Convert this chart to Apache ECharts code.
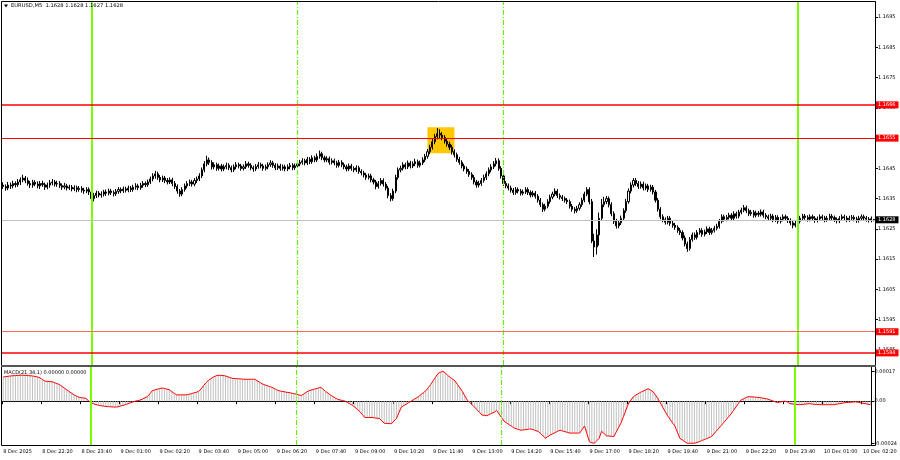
<!DOCTYPE html>
<html><head><meta charset="utf-8">
<script src="https://cdn.jsdelivr.net/npm/echarts/dist/echarts.min.js"></script>
<style>html,body{margin:0;padding:0;background:#fff}#c{width:900px;height:460px}</style>
</head><body><div id="c"></div>
<script>
// ---------- data ----------
const symbolName = 'EURUSD,M5';
const titleValues = ['1.1628', '1.1628', '1.1627', '1.1628'];
const macdTitle = 'MACD(21,34,1) 0.00000 0.00000';
const BASE = 1.16;       // prices below are stored as points above BASE
const PT = 0.00001;      // one point
const startTimeUTC = Date.UTC(2025, 11, 8, 21, 0);
const barMinutes = 5;
const barCount = 356;
const tickEvery = 16;
const tickLabels = ['8 Dec 2025','8 Dec 22:20','8 Dec 23:40','9 Dec 01:00','9 Dec 02:20','9 Dec 03:40','9 Dec 05:00','9 Dec 06:20','9 Dec 07:40','9 Dec 09:00','9 Dec 10:20','9 Dec 11:40','9 Dec 13:00','9 Dec 14:20','9 Dec 15:40','9 Dec 17:00','9 Dec 18:20','9 Dec 19:40','9 Dec 21:00','9 Dec 22:20','9 Dec 23:40','10 Dec 01:00','10 Dec 02:20'];
const priceTicks = [1.1585,1.1595,1.1605,1.1615,1.1625,1.1635,1.1645,1.1655,1.1665,1.1675,1.1685,1.1695];
const macdTicks = [0.00017, 0, -0.00024];
const macdTickText = ['0.00017', '0.00', '-0.00024'];
const levelPrices = [1.1666, 1.1655, 1.1591, 1.1584];
const currentPrice = 1.1628;
const solidLineTimes = ['9 Dec 00:00', '10 Dec 00:00'];
const dashedLineTimes = ['9 Dec 07:00', '9 Dec 14:00'];
const boxTimes = ['9 Dec 11:25', '9 Dec 12:20'];
const boxPrices = [1.1650, 1.16586];

// candles: [open, close, low, high] in points above BASE
const candlePts = [
[395,390,382,404],[390,385,376,397],[385,395,378,405],[395,392,382,403],[392,400,384,409],[400,396,387,407],[396,405,389,415],[405,412,395,420],[412,418,404,429],[418,410,401,425],
[410,400,393,420],[400,395,385,408],[395,404,386,412],[404,398,391,411],[398,392,384,407],[392,400,382,408],[400,396,389,409],[396,388,379,403],[388,395,381,403],[395,402,386,412],
[402,405,394,415],[405,398,390,412],[398,400,389,409],[400,393,385,408],[393,388,379,400],[388,392,381,402],[392,385,377,399],[385,388,378,396],[388,382,374,395],[382,386,375,394],
[386,380,371,393],[380,384,373,392],[384,378,370,391],[378,375,366,386],[375,380,368,388],[380,372,362,387],[372,350,336,379],[350,360,341,369],[360,368,352,376],[368,362,354,375],
[362,365,353,374],[365,372,357,379],[372,368,359,380],[368,375,361,383],[375,370,362,382],[370,366,357,377],[366,374,359,382],[374,380,366,388],[380,376,368,387],[376,382,369,390],
[382,378,370,389],[378,385,371,393],[385,380,372,392],[380,388,373,396],[388,392,380,401],[392,386,378,399],[386,394,379,402],[394,400,386,408],[400,396,388,407],[396,405,389,413],
[405,415,398,423],[415,425,407,434],[425,432,416,442],[432,420,412,439],[420,412,404,428],[412,418,405,426],[418,410,401,425],[410,405,397,418],[405,412,398,420],[412,400,391,419],
[400,390,382,408],[390,375,366,397],[375,365,356,382],[365,380,358,388],[380,392,373,400],[392,400,384,408],[400,405,392,413],[405,398,390,412],[398,410,391,418],[410,415,402,423],
[415,425,408,434],[425,445,418,453],[445,465,437,474],[465,478,457,492],[478,470,461,486],[470,455,446,477],[455,462,447,470],[462,450,442,469],[450,458,443,466],[458,448,440,465],
[448,455,441,463],[455,460,447,469],[460,452,444,467],[452,445,437,459],[445,455,438,463],[455,462,447,471],[462,458,450,469],[458,450,442,465],[450,455,443,463],[455,465,448,474],
[465,460,452,472],[460,452,444,467],[452,448,439,459],[448,456,441,464],[456,462,449,471],[462,458,450,469],[458,450,442,465],[450,455,443,463],[455,462,447,470],[462,468,455,477],
[468,460,452,475],[460,452,444,467],[452,458,445,466],[458,450,442,465],[450,455,443,463],[455,448,440,462],[448,455,441,463],[455,460,447,468],[460,452,444,467],[452,458,445,466],
[458,465,451,473],[465,470,457,478],[470,475,462,484],[475,468,460,482],[468,480,461,488],[480,472,464,487],[472,485,465,493],[485,478,470,492],[478,490,471,499],[490,498,482,509],
[498,485,477,505],[485,478,470,492],[478,482,471,490],[482,470,462,489],[470,475,463,483],[475,468,460,482],[468,460,452,475],[460,470,453,478],[470,462,454,477],[462,455,447,469],
[455,448,440,462],[448,458,441,466],[458,450,442,465],[450,445,437,457],[445,452,438,460],[452,440,432,459],[440,435,427,447],[435,428,420,442],[428,420,412,435],[420,425,413,433],
[425,412,404,432],[412,405,397,419],[405,390,381,412],[390,400,383,408],[400,410,393,418],[410,398,390,417],[398,385,377,405],[385,360,351,392],[360,350,341,368],[350,375,343,383],
[375,420,368,429],[420,445,413,453],[445,450,437,459],[450,462,443,470],[462,455,447,469],[455,468,448,476],[468,458,450,475],[458,465,451,473],[465,472,457,482],[472,460,452,479],
[460,468,453,476],[468,478,461,487],[478,490,471,498],[490,505,482,514],[505,520,497,528],[520,538,512,547],[538,555,530,564],[555,565,546,583],[565,560,548,579],[560,552,543,570],
[552,540,532,560],[540,530,522,549],[530,520,511,538],[520,505,496,528],[505,495,486,513],[495,480,472,502],[480,470,462,488],[470,458,450,477],[458,448,440,465],[448,440,432,456],
[440,430,422,448],[430,420,412,437],[420,405,397,428],[405,395,386,412],[395,400,387,409],[400,410,392,418],[410,420,403,429],[420,432,412,440],[432,445,424,453],[445,455,437,464],
[455,465,448,474],[465,475,457,484],[475,450,442,483],[450,425,416,457],[425,400,392,432],[400,392,384,408],[392,385,377,400],[385,378,370,393],[378,370,362,385],[370,380,363,388],
[380,375,367,387],[375,368,360,382],[368,372,361,380],[372,380,365,388],[380,370,362,387],[370,362,354,377],[362,368,355,376],[368,358,350,375],[358,345,337,365],[345,330,322,352],
[330,315,306,337],[315,325,308,333],[325,340,318,348],[340,355,333,363],[355,365,348,373],[365,375,358,384],[375,360,352,382],[360,355,347,367],[355,350,342,362],[350,345,337,357],
[345,340,332,352],[340,325,317,347],[325,315,307,332],[315,310,301,322],[310,318,303,326],[318,330,311,338],[330,345,323,353],[345,365,338,373],[365,380,358,388],[380,340,331,387],
[340,210,203,349],[210,190,157,234],[190,230,165,249],[230,285,195,304],[285,330,276,349],[330,340,322,356],[340,350,332,359],[350,330,321,357],[330,300,292,338],[300,275,266,308],
[275,260,251,283],[260,270,252,279],[270,285,263,294],[285,310,278,318],[310,340,303,349],[340,375,333,384],[375,395,367,404],[395,410,387,418],[410,400,392,418],[400,390,382,408],
[390,398,383,407],[398,385,377,406],[385,392,378,400],[392,380,372,399],[380,388,373,396],[388,372,364,395],[372,345,337,379],[345,315,307,352],[315,290,282,322],[290,280,272,298],
[280,272,264,288],[272,285,265,293],[285,268,260,292],[268,262,254,276],[262,255,247,270],[255,245,237,262],[245,238,230,253],[238,220,212,245],[220,200,192,228],[200,185,174,208],
[185,215,178,223],[215,230,208,238],[230,222,214,238],[222,238,215,246],[238,245,231,253],[245,232,224,252],[232,240,225,248],[240,250,233,258],[250,238,230,257],[238,245,231,253],
[245,252,238,260],[252,258,245,267],[258,275,251,283],[275,290,268,298],[290,282,274,297],[282,288,275,296],[288,295,281,303],[295,285,277,302],[285,300,278,308],[300,292,284,307],
[292,305,285,313],[305,312,298,320],[312,320,305,329],[320,310,302,327],[310,300,292,317],[300,305,293,313],[305,295,287,312],[295,302,288,310],[302,298,290,309],[298,306,291,314],
[306,295,287,313],[295,290,282,302],[290,285,277,297],[285,292,278,300],[292,280,272,299],[280,288,273,296],[288,275,267,295],[275,282,268,290],[282,290,275,298],[290,285,277,297],
[285,278,270,292],[278,270,262,285],[270,262,252,277],[262,268,255,276],[268,275,261,283],[275,285,268,293],[285,292,278,300],[292,288,280,299],[288,282,274,295],[282,290,275,298],
[290,285,277,297],[285,278,270,292],[278,283,271,291],[283,290,276,298],[290,286,278,297],[286,280,272,293],[280,285,273,293],[285,292,278,300],[292,287,279,299],[287,281,273,294],
[281,276,268,288],[276,284,269,292],[284,290,277,298],[290,286,278,297],[286,280,272,293],[280,285,273,293],[285,288,278,296],[288,283,275,295],[283,278,270,290],[278,285,271,293],
[285,290,278,298],[290,286,278,297],[286,282,274,293],[282,279,271,289],[279,284,272,291],[281,280,275,283]
];

// MACD main line, in points
const macdPts = [
13.8,14.0,14.2,14.4,14.5,14.6,14.7,14.8,14.8,14.7,
14.6,14.5,14.4,14.1,13.8,13.4,12.4,11.5,11.3,11.2,
11.1,10.6,10.0,9.5,8.5,7.5,6.5,5.5,4.5,3.6,
2.9,2.2,2.0,1.8,1.6,0.0,-0.8,-1.5,-2.0,-2.3,
-2.6,-2.8,-3.0,-3.1,-3.2,-3.3,-3.4,-3.2,-2.8,-2.4,
-2.0,-1.5,-1.0,-0.5,0.0,0.3,0.6,1.2,1.9,2.6,
4.2,5.9,6.4,6.8,7.2,7.5,7.3,6.9,6.5,5.5,
4.5,3.6,3.6,3.6,3.6,3.6,3.9,4.3,4.7,5.1,
5.5,7.0,8.8,10.5,11.8,12.8,13.8,14.4,14.8,14.7,
14.6,14.4,13.9,13.4,13.0,12.9,12.8,12.7,12.6,12.5,
12.5,12.5,12.5,12.5,11.6,10.8,9.9,9.4,8.9,8.4,
7.9,7.2,6.5,5.9,5.6,5.4,5.1,4.9,4.6,4.3,
4.0,3.6,3.2,4.1,5.0,5.9,6.3,6.7,7.1,7.5,
7.9,6.8,5.5,4.5,3.5,2.6,1.8,1.0,0.7,0.3,
0.0,-0.8,-1.6,-2.4,-3.5,-4.7,-5.9,-7.6,-9.3,-9.3,
-9.3,-9.3,-9.5,-9.7,-9.9,-11.2,-12.6,-12.7,-12.8,-12.8,
-11.3,-9.9,-6.6,-3.4,-2.5,-1.7,-0.8,0.0,0.9,1.7,
2.6,3.7,4.8,5.9,7.7,9.5,11.6,13.7,15.8,16.5,
17.0,16.2,14.6,13.6,12.6,11.5,9.5,7.5,5.5,3.0,
0.6,-0.8,-2.1,-3.4,-4.9,-6.4,-7.9,-8.1,-8.3,-7.6,
-6.9,-6.3,-5.3,-7.3,-9.3,-11.3,-12.3,-13.3,-14.2,-15.2,
-15.7,-16.2,-16.6,-16.4,-16.2,-16.0,-15.8,-16.3,-16.8,-17.2,
-18.5,-19.8,-21.1,-20.2,-19.2,-18.6,-17.9,-17.2,-16.6,-17.0,
-17.4,-17.8,-18.2,-18.2,-18.2,-18.2,-18.2,-16.2,-14.2,-18.6,
-23.1,-23.8,-24.0,-22.6,-21.1,-17.2,-18.5,-19.8,-19.9,-20.0,
-20.2,-17.5,-14.9,-12.3,-8.6,-5.0,-1.4,0.6,2.6,3.5,
4.3,5.1,5.8,6.4,7.1,6.3,5.5,3.6,1.6,-0.9,
-3.4,-5.9,-8.3,-10.3,-12.3,-14.2,-17.7,-21.1,-22.1,-23.1,
-24.0,-24.0,-24.0,-24.0,-23.6,-23.1,-22.5,-21.9,-21.4,-20.8,
-20.2,-18.6,-17.0,-15.4,-13.8,-12.2,-10.6,-8.9,-7.3,-5.3,
-3.3,-1.3,0.6,1.3,2.0,2.6,2.5,2.4,2.3,2.2,
2.0,1.7,1.5,1.2,0.7,0.2,-0.3,-0.8,-0.5,-0.2,
0.0,-0.4,-1.4,-1.6,-1.8,-1.9,-2.0,-1.9,-1.7,-1.6,
-1.4,-1.6,-1.8,-1.9,-2.0,-2.0,-2.0,-2.0,-2.0,-2.0,
-2.0,-1.8,-1.5,-1.3,-1.0,-0.8,-0.7,-0.6,-0.5,-0.4,
-0.6,-0.9,-1.2,-1.4,-1.7,-2.0
];

// ---------- build ----------
function two(n){ return (n < 10 ? '0' : '') + n; }
const categories = [];
for (let i = 0; i < barCount; i++) {
  const d = new Date(startTimeUTC + i * barMinutes * 60000);
  categories.push(d.getUTCDate() + ' Dec ' + two(d.getUTCHours()) + ':' + two(d.getUTCMinutes()));
}
const toPrice = n => +(BASE + n * PT).toFixed(5);
const candleData = candlePts.map(c => c.map(toPrice));
const macdData = macdPts.map(v => +(v * PT).toFixed(7));
const emptyData = categories.map(() => null);

const FONT = 'DejaVu Sans';
const GREEN = '#7cfc00';
const lbl = { fontFamily: FONT, fontSize: 5, color: '#000' };

function vlines(){
  return solidLineTimes.map(t => ({ xAxis: t, lineStyle: { color: GREEN, width: 2, type: 'solid', opacity: 1 } }))
    .concat(dashedLineTimes.map(t => ({ xAxis: t, lineStyle: { color: '#66ee00', width: 1.2, type: [5, 2, 1, 2], opacity: 1 } })));
}
const levelColors = ['#ff0000', '#ff0000', '#ff6a6a', '#ff0000'];
const levelWidths = [1.5, 1.2, 1.2, 1.5];
const labelBox = (bg) => ({ show: true, position: 'end', distance: 1,
  backgroundColor: bg, color: '#fff', padding: [1, 3, 1, 2], fontFamily: FONT, fontSize: 5 });
const hLines = [{
  yAxis: currentPrice,
  lineStyle: { color: '#c0c0c0', width: 1, type: 'solid' },
  label: Object.assign(labelBox('#000'), { formatter: currentPrice.toFixed(4) })
}].concat(levelPrices.map((p, i) => ({
  yAxis: p,
  lineStyle: { color: levelColors[i], width: levelWidths[i], type: 'solid' },
  label: Object.assign(labelBox('#ff0000'), { formatter: p.toFixed(4) })
})));

const chart = echarts.init(document.getElementById('c'), null, { renderer: 'canvas' });
chart.setOption({
  animation: false,
  backgroundColor: '#fff',
  grid: [
    { left: 2, top: 2, width: 873, height: 363 },
    { left: 2, top: 367, width: 873, height: 78 }
  ],
  xAxis: [
    { type: 'category', gridIndex: 0, data: categories, boundaryGap: true,
      axisLine: { show: false }, axisTick: { show: false }, axisLabel: { show: false }, splitLine: { show: false } },
    { type: 'category', gridIndex: 1, data: categories, boundaryGap: true,
      axisLine: { show: true, lineStyle: { color: '#000', width: 1 } },
      axisTick: { show: true, interval: tickEvery - 1, length: 3, lineStyle: { color: '#000' } },
      axisLabel: { show: true, interval: tickEvery - 1, align: 'left', margin: 4, ...lbl,
        formatter: (v, i) => (i % tickEvery === 0 ? tickLabels[i / tickEvery] : '') },
      splitLine: { show: false } }
  ],
  yAxis: [
    { type: 'value', gridIndex: 0, position: 'right', min: 1.158, max: 1.170,
      axisLine: { show: true, lineStyle: { color: '#000' } },
      axisTick: { show: true, length: 3, customValues: priceTicks, lineStyle: { color: '#000' } },
      axisLabel: { show: true, margin: 3, customValues: priceTicks, formatter: v => v.toFixed(4), ...lbl },
      splitLine: { show: false } },
    { type: 'value', gridIndex: 1, position: 'right', min: -0.00025, max: 0.000195,
      axisLine: { show: true, lineStyle: { color: '#000' } },
      axisTick: { show: true, length: 3, customValues: macdTicks, lineStyle: { color: '#000' } },
      axisLabel: { show: true, margin: 3, customValues: macdTicks,
        formatter: v => { const k = macdTicks.findIndex(t => Math.abs(t - v) < 1e-9); return k >= 0 ? macdTickText[k] : ''; }, ...lbl },
      splitLine: { show: false } }
  ],
  series: [
    { type: 'line', xAxisIndex: 0, yAxisIndex: 0, data: emptyData, symbol: 'none', silent: true, z: 1,
      lineStyle: { opacity: 0 },
      markArea: { silent: true, itemStyle: { color: '#ffc800', opacity: 1 },
        data: [[{ xAxis: boxTimes[0], yAxis: boxPrices[0] }, { xAxis: boxTimes[1], yAxis: boxPrices[1] }]] },
      markLine: { silent: true, symbol: 'none', precision: 6, animation: false, label: { show: false },
        data: vlines() } },
    { type: 'candlestick', xAxisIndex: 0, yAxisIndex: 0, data: candleData, barWidth: 1.6, z: 3,
      itemStyle: { color: '#fff', color0: '#000', borderColor: '#000', borderColor0: '#000', borderWidth: 1 } },
    { type: 'line', xAxisIndex: 0, yAxisIndex: 0, data: emptyData, symbol: 'none', silent: true, z: 4,
      lineStyle: { opacity: 0 },
      markLine: { silent: true, symbol: 'none', precision: 6, animation: false, data: hLines } },
    { type: 'bar', xAxisIndex: 1, yAxisIndex: 1, data: macdData, barWidth: 1,
      itemStyle: { color: '#c0c0c0' },
      markLine: { silent: true, symbol: 'none', precision: 8, animation: false, label: { show: false }, data: vlines() } },
    { type: 'line', xAxisIndex: 1, yAxisIndex: 1, data: macdData, showSymbol: false, symbol: 'none',
      lineStyle: { color: '#ff0000', width: 1 } }
  ],
  graphic: [
    { type: 'rect', shape: { x: 1.5, y: 1.5, width: 874, height: 444 }, style: { fill: 'none', stroke: '#000', lineWidth: 1 }, z: 100 },
    { type: 'rect', shape: { x: 1, y: 365, width: 875, height: 2 }, style: { fill: '#555' }, z: 100 },
    { type: 'polygon', shape: { points: [[4, 4.5], [8, 4.5], [6, 7.5]] }, style: { fill: '#000' }, z: 100 },
    { type: 'text', x: 11, y: 6, style: { text: symbolName + '  ' + titleValues.join(' '), fontFamily: FONT, fontSize: 5.2, fill: '#000', textVerticalAlign: 'middle' }, z: 100 },
    { type: 'text', x: 4, y: 373, style: { text: macdTitle, fontFamily: FONT, fontSize: 5, fill: '#000', textVerticalAlign: 'middle' }, z: 100 }
  ]
});
</script></body></html>
